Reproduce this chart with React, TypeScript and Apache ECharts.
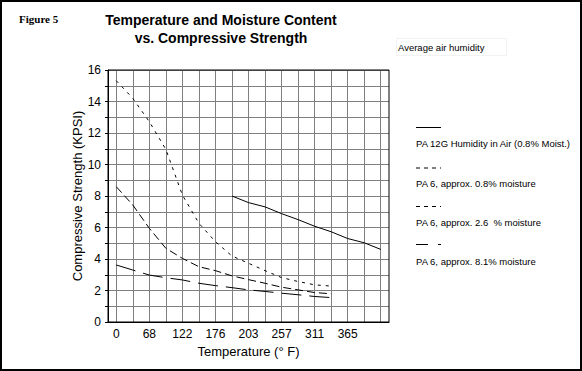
import React, { useEffect, useRef } from 'react';
import * as echarts from 'echarts';

// x categories (only every other one is labelled in the reference)
const categories = ['0', '32', '68', '95', '122', '149', '176', '190', '203', '230', '257', '284', '311', '338', '365', '392', '419'];
const yTicks = { min: 0, max: 16, interval: 2 };

const seriesNames = [
  'PA 12G Humidity in Air (0.8% Moist.)',
  'PA 6, approx. 0.8% moisture',
  'PA 6, approx. 2.6  % moisture',
  'PA 6, approx. 8.1% moisture',
];

const pa12g = [null, null, null, null, null, null, null, 8.0, 7.58, 7.31, 6.88, 6.5, 6.08, 5.73, 5.3, 5.03, 4.61];
const pa6Dry = [15.32, 14.2, 12.72, 10.96, 8.06, 6.27, 5.1, 4.19, 3.73, 3.26, 2.82, 2.57, 2.36, 2.28];
const pa6Mid = [8.59, 7.43, 5.95, 4.68, 4.04, 3.51, 3.26, 2.93, 2.69, 2.46, 2.21, 2.04, 1.87, 1.79];
const pa6Wet = [3.62, 3.3, 2.98, 2.81, 2.67, 2.46, 2.31, 2.18, 2.04, 1.94, 1.83, 1.73, 1.62, 1.55];

const dashes: any[] = ['solid', [3, 5], [8, 4], [20, 8]];
const legendDashes: any[] = [null, [4, 4], [4, 4], [12, 10]];

const FONT = 'Liberation Sans, Arial, sans-serif';
const GRID = { left: 108, top: 70, right: 193, bottom: 49 };
const W = 582;
const H = 371;

export default function App() {
  const ref = useRef<HTMLDivElement>(null);
  useEffect(() => {
    if (!ref.current) return;
    const chart = echarts.init(ref.current, undefined, { renderer: 'svg' });
    const dataSets = [pa12g, pa6Dry, pa6Mid, pa6Wet];

    const legendX = 416;
    const sampleYs = [127.5, 168, 206.5, 244.5];
    const textYs = [143.5, 183.5, 222.5, 261.5];
    const legendGraphics: any[] = [];
    seriesNames.forEach((n, i) => {
      legendGraphics.push({
        type: 'line',
        shape: { x1: legendX, y1: sampleYs[i], x2: legendX + 25, y2: sampleYs[i] },
        style: { stroke: '#000', lineWidth: 1, lineDash: legendDashes[i] || undefined },
      });
      legendGraphics.push({
        type: 'text',
        x: legendX,
        y: textYs[i],
        style: { text: n, fill: '#000', font: `9.5px ${FONT}`, textVerticalAlign: 'middle' },
      });
    });

    const option: any = {
      animation: false,
      backgroundColor: '#fff',
      grid: { ...GRID, containLabel: false },
      xAxis: {
        type: 'category',
        data: categories,
        boundaryGap: true,
        name: 'Temperature (° F)',
        nameLocation: 'middle',
        nameGap: 15,
        nameTextStyle: { fontFamily: FONT, fontSize: 13, color: '#000' },
        axisLine: { show: true, lineStyle: { color: '#000', width: 1 } },
        axisTick: { show: false },
        axisLabel: {
          interval: (i: number) => i % 2 === 0 && i < 16,
          color: '#000',
          fontFamily: FONT,
          fontSize: 12,
          margin: 6,
        },
        splitLine: { show: false },
      },
      yAxis: {
        type: 'value',
        ...yTicks,
        name: 'Compressive Strength (KPSI)',
        nameLocation: 'middle',
        nameGap: 22,
        nameTextStyle: { fontFamily: FONT, fontSize: 13, color: '#000' },
        axisLine: { show: true, lineStyle: { color: '#000', width: 1 } },
        axisTick: { show: true, length: 3, lineStyle: { color: '#000' } },
        minorTick: { show: true, splitNumber: 2, length: 3, lineStyle: { color: '#000' } },
        axisLabel: { color: '#000', fontFamily: FONT, fontSize: 12, margin: 7 },
        splitLine: { show: true, lineStyle: { color: '#808080', width: 1 } },
        minorSplitLine: { show: true, lineStyle: { color: '#808080', width: 1 } },
      },
      series: dataSets.map((d, i) => ({
        type: 'line',
        name: seriesNames[i],
        data: d,
        showSymbol: false,
        symbol: 'none',
        connectNulls: false,
        z: 3,
        lineStyle: { color: '#000', width: 1, type: dashes[i] },
        ...(i === 0
          ? {
              markLine: {
                z: 1,
                silent: true,
                symbol: ['none', 'none'],
                label: { show: false },
                lineStyle: { color: '#808080', width: 1, type: 'solid' },
                data: categories.map((c) => ({ xAxis: c })),
              },
            }
          : {}),
      })),
      graphic: [
        {
          type: 'rect',
          z: 100,
          shape: { x: GRID.left, y: GRID.top, width: W - GRID.left - GRID.right, height: H - GRID.top - GRID.bottom },
          style: { fill: 'none', stroke: '#000', lineWidth: 1 },
        },
        {
          type: 'rect',
          z: 100,
          shape: { x: 1, y: 1, width: 580, height: 369 },
          style: { fill: 'none', stroke: '#000', lineWidth: 2 },
        },
        {
          type: 'text',
          x: 19,
          y: 19,
          style: { text: 'Figure 5', fill: '#000', font: `bold 11px "Liberation Serif", "Times New Roman", serif`, textVerticalAlign: 'middle' },
        },
        {
          type: 'text',
          x: 221,
          y: 20,
          style: { text: 'Temperature and Moisture Content', fill: '#000', font: `bold 14px ${FONT}`, textAlign: 'center', textVerticalAlign: 'middle' },
        },
        {
          type: 'text',
          x: 221,
          y: 38,
          style: { text: 'vs. Compressive Strength', fill: '#000', font: `bold 14px ${FONT}`, textAlign: 'center', textVerticalAlign: 'middle' },
        },
        {
          type: 'rect',
          shape: { x: 396.5, y: 38.5, width: 110, height: 17 },
          style: { fill: '#fff', stroke: '#f2f2f2', lineWidth: 1 },
        },
        {
          type: 'text',
          x: 398,
          y: 47,
          style: { text: 'Average air humidity', fill: '#000', font: `9.5px ${FONT}`, textVerticalAlign: 'middle' },
        },
        ...legendGraphics,
      ],
    };
    chart.setOption(option);
    return () => chart.dispose();
  }, []);
  return <div ref={ref} style={{ position: 'absolute', left: 0, top: 0, width: W, height: H }} />;
}
